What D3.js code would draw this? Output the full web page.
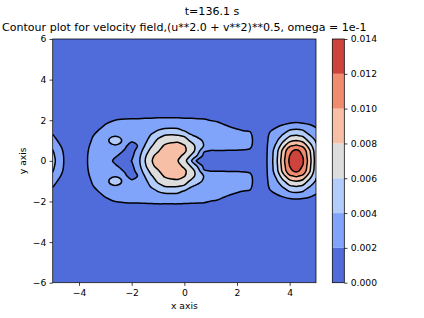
<!DOCTYPE html>
<html><head><meta charset="utf-8">
<script src="https://cdn.jsdelivr.net/npm/d3@7"></script>
<style>
body{margin:0;background:#fff}
svg{display:block}
text{font-family:"DejaVu Sans",sans-serif;fill:#000}
</style>
</head><body>
<svg id="chart" width="424" height="318"></svg>
<script>
// ---- data ----
const suptitle = "t=136.1 s";
const title = "Contour plot for velocity field,(u**2.0 + v**2)**0.5, omega = 1e-1";
const xLabel = "x axis", yLabel = "y axis";
const xTicks = [-4, -2, 0, 2, 4];
const yTicks = [-6, -4, -2, 0, 2, 4, 6];
const levels = [0, 0.002, 0.004, 0.006, 0.008, 0.010, 0.012, 0.014];
const bandColors = ["#506bda", "#80a4fa", "#b2ccfb", "#dddddd", "#f6bfa6", "#f08b6d", "#ce433b"];
const valueUnit = 1e-3;
const gridX = [-5,-4.75,-4.5,-4.25,-4,-3.75,-3.5,-3.25,-3,-2.75,-2.5,-2.25,-2,-1.75,-1.5,-1.25,-1,-0.75,-0.5,-0.25,0,0.25,0.5,0.75,1,1.25,1.5,1.75,2,2.25,2.5,2.75,3,3.25,3.5,3.75,4,4.25,4.5,4.75,5];
const gridYUpper = [0, 0.25, 0.5, 0.75, 1, 1.25, 1.5, 1.75, 2, 2.25, 2.5];
// speed (x1e-3) along rows y = 0 ... 2.5 (field symmetric about y = 0)
const rowY000 = [4.6,3.1,1.48,1.2,1.3,1.75,2.6,2.9,2.6,2.05,1.5,1.35,2.05,3.4,5.9,7.9,8.7,8.8,8.6,8.05,6.8,4.3,1.4,1.2,1.2,1.2,1.2,1.2,1.2,1.2,1.1,1.0,1.0,2.8,5.6,9.3,12.4,13.3,12.3,9.0,5.0];
const rowY025 = [4.4,3.0,1.45,1.18,1.28,1.72,2.6,2.9,2.7,2.5,1.9,1.3,1.6,3.2,5.6,7.6,8.6,9.0,8.9,8.4,7.7,5.8,3.8,1.4,1.3,1.3,1.3,1.3,1.3,1.3,1.2,1.0,1.0,2.78,5.43,9.02,12.03,12.9,11.93,8.73,4.9];
const rowY050 = [4.1,2.7,1.35,1.1,1.2,1.65,2.5,2.85,2.8,2.8,2.5,1.8,1.3,2.7,4.9,6.7,7.8,8.9,9.0,8.8,8.3,7.2,5.0,2.2,1.95,1.95,1.95,1.9,1.9,1.85,1.7,1.0,0.98,2.72,5.22,8.67,11.56,12.4,11.46,8.39,4.7];
const rowY075 = [3.5,2.2,1.2,1.0,1.1,1.5,2.35,2.75,2.9,3.6,3.6,2.3,1.3,2.1,4.05,5.8,7.1,8.2,8.5,8.4,8.1,7.0,5.2,3.9,2.9,2.9,2.9,2.9,2.8,2.7,2.4,0.9,0.95,2.65,4.4,7.2,9.6,10.3,9.52,6.97,4.3];
const rowY100 = [2.7,1.7,1.05,0.9,1.0,1.35,2.1,2.65,2.9,5.0,5.0,2.9,2.3,2.7,3.5,4.9,6.4,7.2,7.6,7.8,7.0,5.6,4.6,3.7,3.2,3.2,3.2,3.1,3.0,2.9,2.6,0.9,0.9,2.5,3.7,5.6,7.46,8.0,7.4,5.42,3.8];
const rowY125 = [2.1,1.4,0.9,0.8,0.85,1.2,1.9,2.4,2.8,3.6,3.6,3.0,2.9,3.0,3.2,4.2,5.3,6.05,6.2,6.1,5.7,4.2,3.6,3.2,3.1,3.1,3.0,2.9,2.8,2.6,2.4,0.85,0.85,2.3,3.0,4.27,5.69,6.1,5.65,4.13,3.2];
const rowY150 = [1.5,1.1,0.75,0.65,0.7,1.0,1.4,2.05,2.5,2.8,3.0,3.0,3.1,3.1,3.1,3.4,4.05,4.5,4.6,4.5,3.8,3.2,3.0,2.9,2.9,2.8,2.6,2.4,2.15,1.95,1.85,0.8,0.75,1.85,2.4,3.1,4.1,4.4,4.07,2.98,2.5];
const rowY175 = [1.0,0.8,0.6,0.55,0.6,0.8,1.0,1.5,2.1,2.4,2.6,2.8,2.9,2.95,2.95,3.0,3.1,3.2,3.2,3.2,3.1,3.0,2.9,2.8,2.7,2.5,2.1,1.8,1.6,1.5,1.4,0.7,0.6,1.2,1.7,2.1,2.52,2.7,2.5,2.2,1.6];
const rowY200 = [0.7,0.6,0.5,0.45,0.45,0.6,0.7,1.0,1.5,1.9,2.1,2.2,2.25,2.25,2.3,2.35,2.4,2.4,2.4,2.4,2.35,2.3,2.25,2.2,1.95,1.8,1.5,1.3,1.2,1.1,1.0,0.6,0.45,0.7,0.9,1.1,1.3,1.4,1.29,0.95,0.8];
const rowY225 = [0.5,0.4,0.35,0.35,0.35,0.45,0.5,0.6,0.9,1.2,1.3,1.4,1.45,1.45,1.5,1.5,1.55,1.55,1.55,1.55,1.5,1.5,1.45,1.4,1.3,1.2,1.0,0.9,0.8,0.75,0.7,0.45,0.3,0.4,0.4,0.5,0.66,0.7,0.65,0.48,0.35];
const rowY250 = [0.3,0.3,0.25,0.25,0.25,0.3,0.3,0.35,0.5,0.6,0.7,0.7,0.75,0.75,0.75,0.75,0.8,0.8,0.8,0.8,0.8,0.8,0.75,0.75,0.7,0.65,0.6,0.55,0.5,0.45,0.4,0.3,0.15,0.2,0.15,0.2,0.29,0.3,0.28,0.21,0.1];
const upperRows = [rowY000,rowY025,rowY050,rowY075,rowY100,rowY125,rowY150,rowY175,rowY200,rowY225,rowY250];

// ---- layout ----
const svg = d3.select("#chart");
const W = 424, H = 318;
const plot = {l: 52.7, r: 316, t: 39, b: 282.7};
const cb = {l: 332.3, r: 344.3};
const x = d3.scaleLinear().domain([-5, 5]).range([plot.l, plot.r]);
const y = d3.scaleLinear().domain([-6, 6]).range([plot.b, plot.t]);
const cbY = d3.scaleLinear().domain([levels[0], levels[levels.length-1]]).range([plot.b, plot.t]);
const tickFont = 9.2, titleFont = 11.04, tickLen = 3.2, tickPad = 3.2, spineW = 0.74;

// ---- build full grid by mirroring ----
const nx = gridX.length;
const nUp = gridYUpper.length;
const gridYFull = [...gridYUpper.slice(1).reverse().map(v => -v), ...gridYUpper];
const ny = gridYFull.length;
const values = new Array(nx * ny);
for (let j = 0; j < ny; j++) {
  const k = Math.abs(j - (nUp - 1));
  const row = upperRows[k];
  for (let i = 0; i < nx; i++) values[j * nx + i] = row[i] * valueUnit;
}
const stepX = gridX[1] - gridX[0];
const stepY = gridYFull[1] - gridYFull[0];

const thresholds = levels.slice(1, -1);
const contourGen = d3.contours().size([nx, ny]).thresholds(thresholds);
const cs = contourGen(values);

const line = d3.line().curve(d3.curveCatmullRomClosed.alpha(0.5));
function pathFor(mp) {
  let s = "";
  mp.coordinates.forEach(poly => poly.forEach(ring => {
    const pts = ring.slice(0, -1).map(([gx, gy]) => [
      x(gridX[0] + (gx - 0.5) * stepX),
      y(gridYFull[0] + (gy - 0.5) * stepY)
    ]);
    if (pts.length > 2) s += line(pts);
  }));
  return s;
}

svg.append("defs").append("clipPath").attr("id", "pc")
  .append("rect").attr("x", plot.l).attr("y", plot.t)
  .attr("width", plot.r - plot.l).attr("height", plot.b - plot.t);

const g = svg.append("g").attr("clip-path", "url(#pc)");
g.append("rect").attr("x", plot.l).attr("y", plot.t)
  .attr("width", plot.r - plot.l).attr("height", plot.b - plot.t)
  .attr("fill", bandColors[0]);
cs.forEach((c, idx) => {
  g.append("path").attr("d", pathFor(c)).attr("fill", bandColors[idx + 1])
    .attr("fill-rule", "evenodd").attr("stroke", "none");
});
cs.forEach(c => {
  g.append("path").attr("d", pathFor(c)).attr("fill", "none")
    .attr("stroke", "#000").attr("stroke-width", 1.5).attr("stroke-linejoin", "round");
});

// spines
svg.append("rect").attr("x", plot.l).attr("y", plot.t)
  .attr("width", plot.r - plot.l).attr("height", plot.b - plot.t)
  .attr("fill", "none").attr("stroke", "#000").attr("stroke-width", spineW);

// axes
const fmt = d3.format("d");
const xAxis = d3.axisBottom(x).tickValues(xTicks).tickSize(tickLen).tickPadding(tickPad).tickFormat(d => fmt(d).replace("-", "\u2212"));
const yAxis = d3.axisLeft(y).tickValues(yTicks).tickSize(tickLen).tickPadding(tickPad).tickFormat(d => fmt(d).replace("-", "\u2212"));
const gx = svg.append("g").attr("transform", `translate(0,${plot.b})`).call(xAxis);
const gy = svg.append("g").attr("transform", `translate(${plot.l},0)`).call(yAxis);
[gx, gy].forEach(a => {
  a.select(".domain").remove();
  a.selectAll("line").attr("stroke", "#000").attr("stroke-width", spineW);
  a.selectAll("text").attr("font-size", tickFont).attr("font-family", "DejaVu Sans").attr("fill", "#000");
});

// colorbar
const cbg = svg.append("g");
bandColors.forEach((col, i) => {
  cbg.append("rect").attr("x", cb.l).attr("width", cb.r - cb.l)
    .attr("y", cbY(levels[i + 1])).attr("height", cbY(levels[i]) - cbY(levels[i + 1]))
    .attr("fill", col);
});
cbg.append("rect").attr("x", cb.l).attr("y", plot.t).attr("width", cb.r - cb.l)
  .attr("height", plot.b - plot.t).attr("fill", "none").attr("stroke", "#000").attr("stroke-width", spineW);
const cbAxis = d3.axisRight(cbY).tickValues(levels).tickSize(tickLen).tickPadding(tickPad).tickFormat(d3.format(".3f"));
const gcb = svg.append("g").attr("transform", `translate(${cb.r},0)`).call(cbAxis);
gcb.select(".domain").remove();
gcb.selectAll("line").attr("stroke", "#000").attr("stroke-width", spineW);
gcb.selectAll("text").attr("font-size", tickFont).attr("font-family", "DejaVu Sans").attr("fill", "#000");

// titles & labels
svg.append("text").attr("x", W / 2).attr("y", 15.2).attr("text-anchor", "middle")
  .attr("font-size", titleFont).text(suptitle);
svg.append("text").attr("x", (plot.l + plot.r) / 2).attr("y", 31.3).attr("text-anchor", "middle")
  .attr("font-size", titleFont).text(title);
svg.append("text").attr("x", (plot.l + plot.r) / 2).attr("y", 309).attr("text-anchor", "middle")
  .attr("font-size", tickFont).text(xLabel);
svg.append("text").attr("transform", `translate(26,${y(0)}) rotate(-90)`).attr("text-anchor", "middle")
  .attr("font-size", tickFont).text(yLabel);
</script>
</body></html>
